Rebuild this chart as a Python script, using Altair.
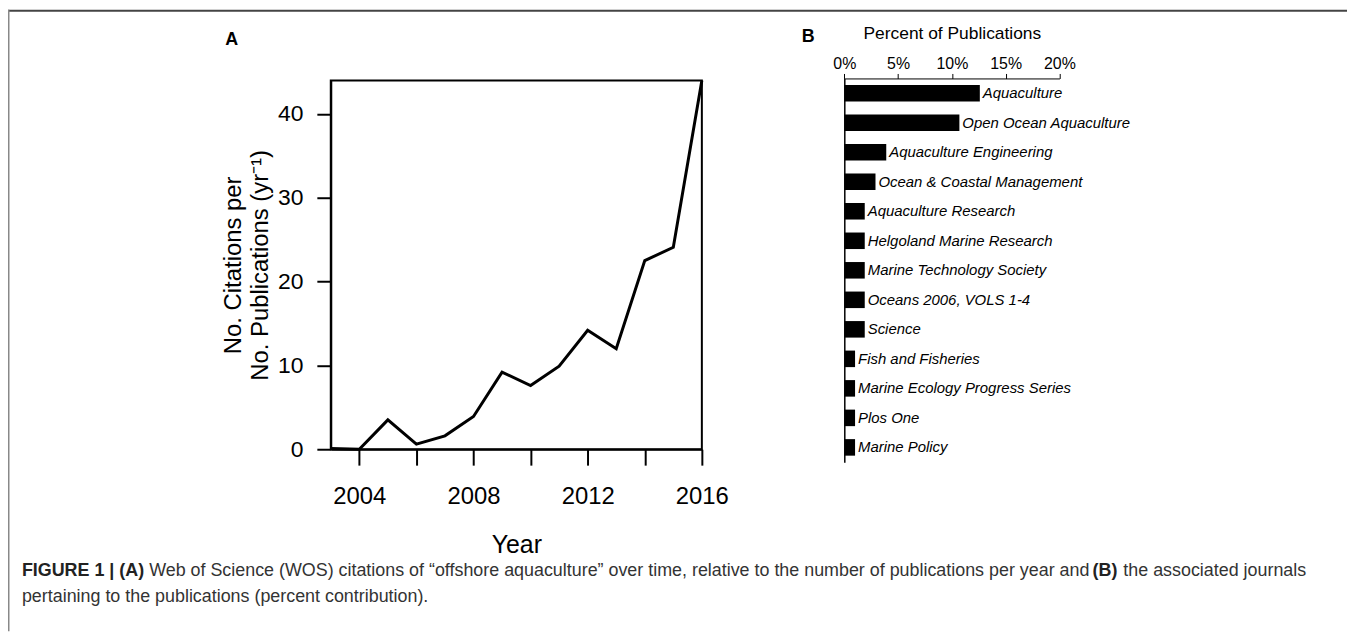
import altair as alt
import pandas as pd

# ---------------- data ----------------
years = [2003, 2004, 2005, 2006, 2007, 2008, 2009, 2010, 2011, 2012, 2013, 2014, 2015, 2016]
cites_per_pub = [0.1, 0.0, 3.5, 0.6, 1.6, 3.9, 9.2, 7.6, 9.9, 14.2, 12.0, 22.5, 24.1, 44.0]

journals = [
    "Aquaculture", "Open Ocean Aquaculture", "Aquaculture Engineering",
    "Ocean & Coastal Management", "Aquaculture Research", "Helgoland Marine Research",
    "Marine Technology Society", "Oceans 2006, VOLS 1-4", "Science",
    "Fish and Fisheries", "Marine Ecology Progress Series", "Plos One", "Marine Policy",
]
percents = [12.6, 10.7, 3.9, 2.9, 1.9, 1.9, 1.9, 1.9, 1.9, 1.0, 1.0, 1.0, 1.0]

a_x_ticks = [2004, 2006, 2008, 2010, 2012, 2014, 2016]
a_y_ticks = [0, 10, 20, 30, 40]
a_x_domain = [2003, 2016]
a_y_domain = [0, 44]
b_x_ticks = [0, 5, 10, 15, 20]
b_x_domain = [0, 20]

a_y_title = ["No. Citations per", "No. Publications (yr\u207b\u00b9)"]
a_x_title = "Year"
b_x_title = "Percent of Publications"
panel_labels = ["A", "B"]
caption_bold_1 = "FIGURE 1 | (A)"
caption_text_1 = ("Web of Science (WOS) citations of \u201coffshore aquaculture\u201d over time, "
                  "relative to the number of publications per year and")
caption_bold_2 = "(B)"
caption_text_2 = "the associated journals"
caption_line_2 = "pertaining to the publications (percent contribution)."

dfA = pd.DataFrame({"Year": years, "Value": cites_per_pub})
dfBox = pd.DataFrame({"x0": [a_x_domain[0]], "x1": [a_x_domain[1]],
                      "y0": [a_y_domain[0]], "y1": [a_y_domain[1]]})
dfB = pd.DataFrame({"Journal": journals, "Percent": percents})
one = pd.DataFrame({"k": [0]})

FONT = "Liberation Sans"
W, H = 1347, 625

# ---------------- panel A ----------------
sxA = alt.Scale(domain=a_x_domain, range=[324.7, 698], nice=False, zero=False)
syA = alt.Scale(domain=a_y_domain, range=[442, 71], nice=False, zero=False)

axAx = alt.Axis(orient="bottom", offset=442 - H, values=a_x_ticks, format="d",
                labelExpr="datum.value % 4 == 0 ? datum.label : ''",
                tickSize=16, tickWidth=2, tickColor="black", domainWidth=2, domainColor="black",
                labelFontSize=24, labelFont=FONT, labelColor="black", labelPadding=20,
                labelFlush=False, labelOverlap=False, grid=False,
                title=a_x_title, titleFontSize=25, titleFont=FONT, titleFontWeight="normal",
                titleColor="black", titlePadding=24)
axAy = alt.Axis(orient="left", offset=-324.7, values=a_y_ticks,
                tickSize=14, tickWidth=2, tickColor="black", domainWidth=2, domainColor="black",
                labelFontSize=23, labelFont=FONT, labelColor="black", labelPadding=14,
                grid=False, title=a_y_title, titleFontSize=24, titleFont=FONT,
                titleFontWeight="normal", titleColor="black", titleLineHeight=27, titlePadding=5)

box = alt.Chart(dfBox).mark_rect(fillOpacity=0, stroke="black", strokeWidth=2).encode(
    x=alt.X("x0:Q", scale=sxA, axis=axAx),
    x2="x1:Q",
    y=alt.Y("y0:Q", scale=syA, axis=axAy),
    y2="y1:Q",
)
line = alt.Chart(dfA).mark_line(color="black", strokeWidth=3).encode(
    x=alt.X("Year:Q", scale=sxA, axis=axAx),
    y=alt.Y("Value:Q", scale=syA, axis=axAy),
)
layerA = alt.layer(box, line)

# ---------------- panel B ----------------
sxB = alt.Scale(domain=b_x_domain, range=[841.3, 1057.7], nice=False, zero=False)
syB = alt.Scale(domain=journals, range=[69, 455], paddingInner=0.44, paddingOuter=0.22)

axBx = alt.Axis(orient="top", offset=-69, values=b_x_ticks, labelExpr="datum.value + '%'",
                tickSize=5, tickWidth=1, tickColor="black", domainWidth=1, domainColor="black",
                labelFontSize=16, labelFont=FONT, labelColor="black", labelPadding=2,
                labelFlush=False, labelOverlap=False, grid=False,
                title=b_x_title, titleFontSize=17.5, titleFont=FONT, titleFontWeight="normal",
                titleColor="black", titlePadding=13)
axBy = alt.Axis(orient="left", offset=-841.3, ticks=False, labels=False,
                domainWidth=1.5, domainColor="black", grid=False, title=None)

baseB = alt.Chart(dfB).encode(
    x=alt.X("Percent:Q", scale=sxB, axis=axBx),
    y=alt.Y("Journal:N", sort=journals, scale=syB, axis=axBy),
)
bars = baseB.mark_bar(color="black")
blabels = baseB.mark_text(align="left", baseline="middle", dx=3, fontSize=15,
                          fontStyle="italic", font=FONT, color="black").encode(text="Journal:N")
layerB = alt.layer(bars, blabels)

# ---------------- frame, panel letters, caption ----------------
frame_top = alt.Chart(one).mark_rule(color="#444444", strokeWidth=2).encode(
    x=alt.value(0), x2=alt.value(W), y=alt.value(1))
frame_left = alt.Chart(one).mark_rule(color="#888888", strokeWidth=2).encode(
    x=alt.value(0.5), y=alt.value(0), y2=alt.value(H))


def txt(s, x, y, size, weight="normal", color="black", align="left"):
    return alt.Chart(one).mark_text(align=align, baseline="middle", fontSize=size,
                                    fontWeight=weight, font=FONT, color=color).encode(
        x=alt.value(x), y=alt.value(y), text=alt.value(s))


CAP = 18
labA = txt(panel_labels[0], 225, 30, 18, "bold", align="center")
labB = txt(panel_labels[1], 805, 27, 18, "bold", align="center")
cap1 = txt(caption_bold_1, 14, 565, CAP, "bold", "#222222")
cap2 = txt(caption_text_1, 142, 565, CAP, "normal", "#333333")
cap3 = txt(caption_bold_2, 1091, 565, CAP, "bold", "#222222")
cap4 = txt(caption_text_2, 1122, 565, CAP, "normal", "#333333")
cap5 = txt(caption_line_2, 14, 591, CAP, "normal", "#333333")

chart = alt.layer(
    frame_top, frame_left, layerA, layerB, labA, labB, cap1, cap2, cap3, cap4, cap5
).resolve_scale(x="independent", y="independent").resolve_axis(
    x="independent", y="independent"
).properties(
    width=W, height=H, autosize=alt.AutoSizeParams(type="none"), padding=0,
    background="white",
).configure_view(stroke=None)

chart.save("out.html", embed_options={"renderer": "svg", "actions": False})
